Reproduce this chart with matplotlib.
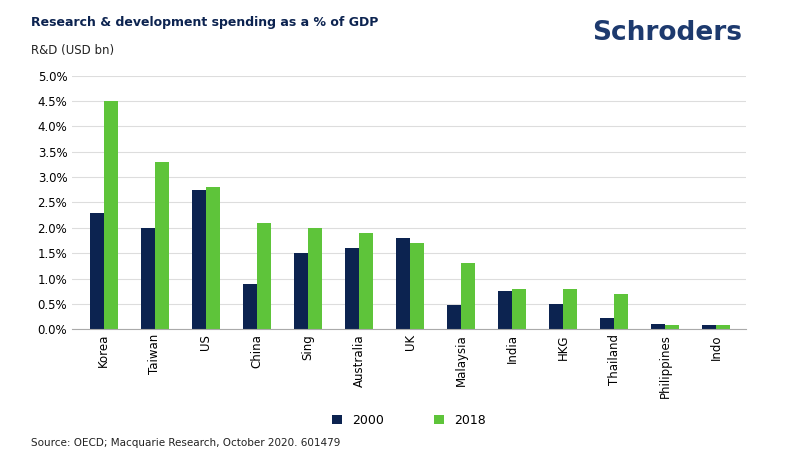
import numpy as np
import matplotlib.pyplot as plt

countries = ["Korea", "Taiwan", "US", "China", "Sing", "Australia", "UK",
             "Malaysia", "India", "HKG", "Thailand", "Philippines", "Indo"]
y2000 = [2.3, 2.0, 2.75, 0.9, 1.5, 1.6, 1.8, 0.47, 0.75, 0.5, 0.23, 0.1, 0.08]
y2018 = [4.5, 3.3, 2.8, 2.1, 2.0, 1.9, 1.7, 1.3, 0.8, 0.8, 0.7, 0.08, 0.08]

navy = "#0c2350"
green = "#5ec43a"

fig = plt.figure(figsize=(7.85, 4.67), dpi=100)
ax = fig.add_axes([0.092, 0.295, 0.858, 0.543])

x = np.arange(len(countries))
w = 0.27
ax.bar(x - w/2, y2000, w, color=navy, label="2000")
ax.bar(x + w/2, y2018, w, color=green, label="2018")

ax.set_ylim(0, 5)
ax.set_yticks(np.arange(0, 5.01, 0.5))
ax.set_yticklabels([f"{v:.1f}%" for v in np.arange(0, 5.01, 0.5)], fontsize=8.5)
ax.set_xlim(-0.62, len(countries) - 0.42)
ax.set_xticks(x)
ax.set_xticklabels(countries, rotation=90, fontsize=8.5)
ax.grid(axis="y", color="#dddddd", linewidth=0.8)
ax.set_axisbelow(True)
for s in ["top", "right", "left"]:
    ax.spines[s].set_visible(False)
ax.spines["bottom"].set_color("#aaaaaa")
ax.tick_params(length=0)

ax.legend(loc="upper center", bbox_to_anchor=(0.5, -0.29), ncol=2, frameon=False,
          fontsize=9, handlelength=0.8, handleheight=0.8, columnspacing=4)

fig.text(0.04, 0.945, "Research & development spending as a % of GDP", fontsize=9,
         fontweight="bold", color=navy)
fig.text(0.04, 0.885, "R&D (USD bn)", fontsize=8.5, color="#222222")
fig.text(0.945, 0.915, "Schroders", fontsize=19, fontweight="bold", color="#1d3a6e", ha="right")
fig.text(0.04, 0.045, "Source: OECD; Macquarie Research, October 2020. 601479", fontsize=7.5,
         color="#222222")

fig.savefig("out.png", dpi=100)
